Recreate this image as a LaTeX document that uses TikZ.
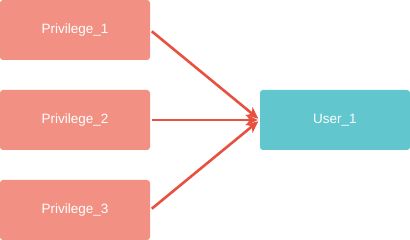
\documentclass[tikz,border=0pt]{standalone}
\usepackage{fontspec}
\setmainfont{Liberation Sans}
\usetikzlibrary{arrows.meta}
\definecolor{privfill}{HTML}{F19083}
\definecolor{userfill}{HTML}{62C6CE}
\definecolor{linkred}{HTML}{E8513F}
\tikzset{
  box/.style={minimum width=150pt, minimum height=60pt, rounded corners=3pt,
    inner sep=0pt, text=white, font=\fontsize{13.5}{16}\selectfont},
  privbox/.style={box, fill=privfill},
  userbox/.style={box, fill=userfill},
  link/.style={linkred, line width=2.6pt, -{Stealth[length=12pt, width=11pt]},
    shorten <=2pt, shorten >=2pt}
}
\begin{document}
\begin{tikzpicture}[x=1pt, y=-1pt]
  \useasboundingbox (0,0) rectangle (410,240);
  \node[privbox] (priv1) at (75,30) {Privilege\_1};
  \node[privbox] (priv2) at (75,120) {Privilege\_2};
  \node[privbox] (priv3) at (75,210) {Privilege\_3};
  \node[userbox] (user1) at (335,120) {User\_1};
  \foreach \p in {priv1,priv2,priv3}
    \draw[link] (\p.east) -- (user1.west);
\end{tikzpicture}
\end{document}
